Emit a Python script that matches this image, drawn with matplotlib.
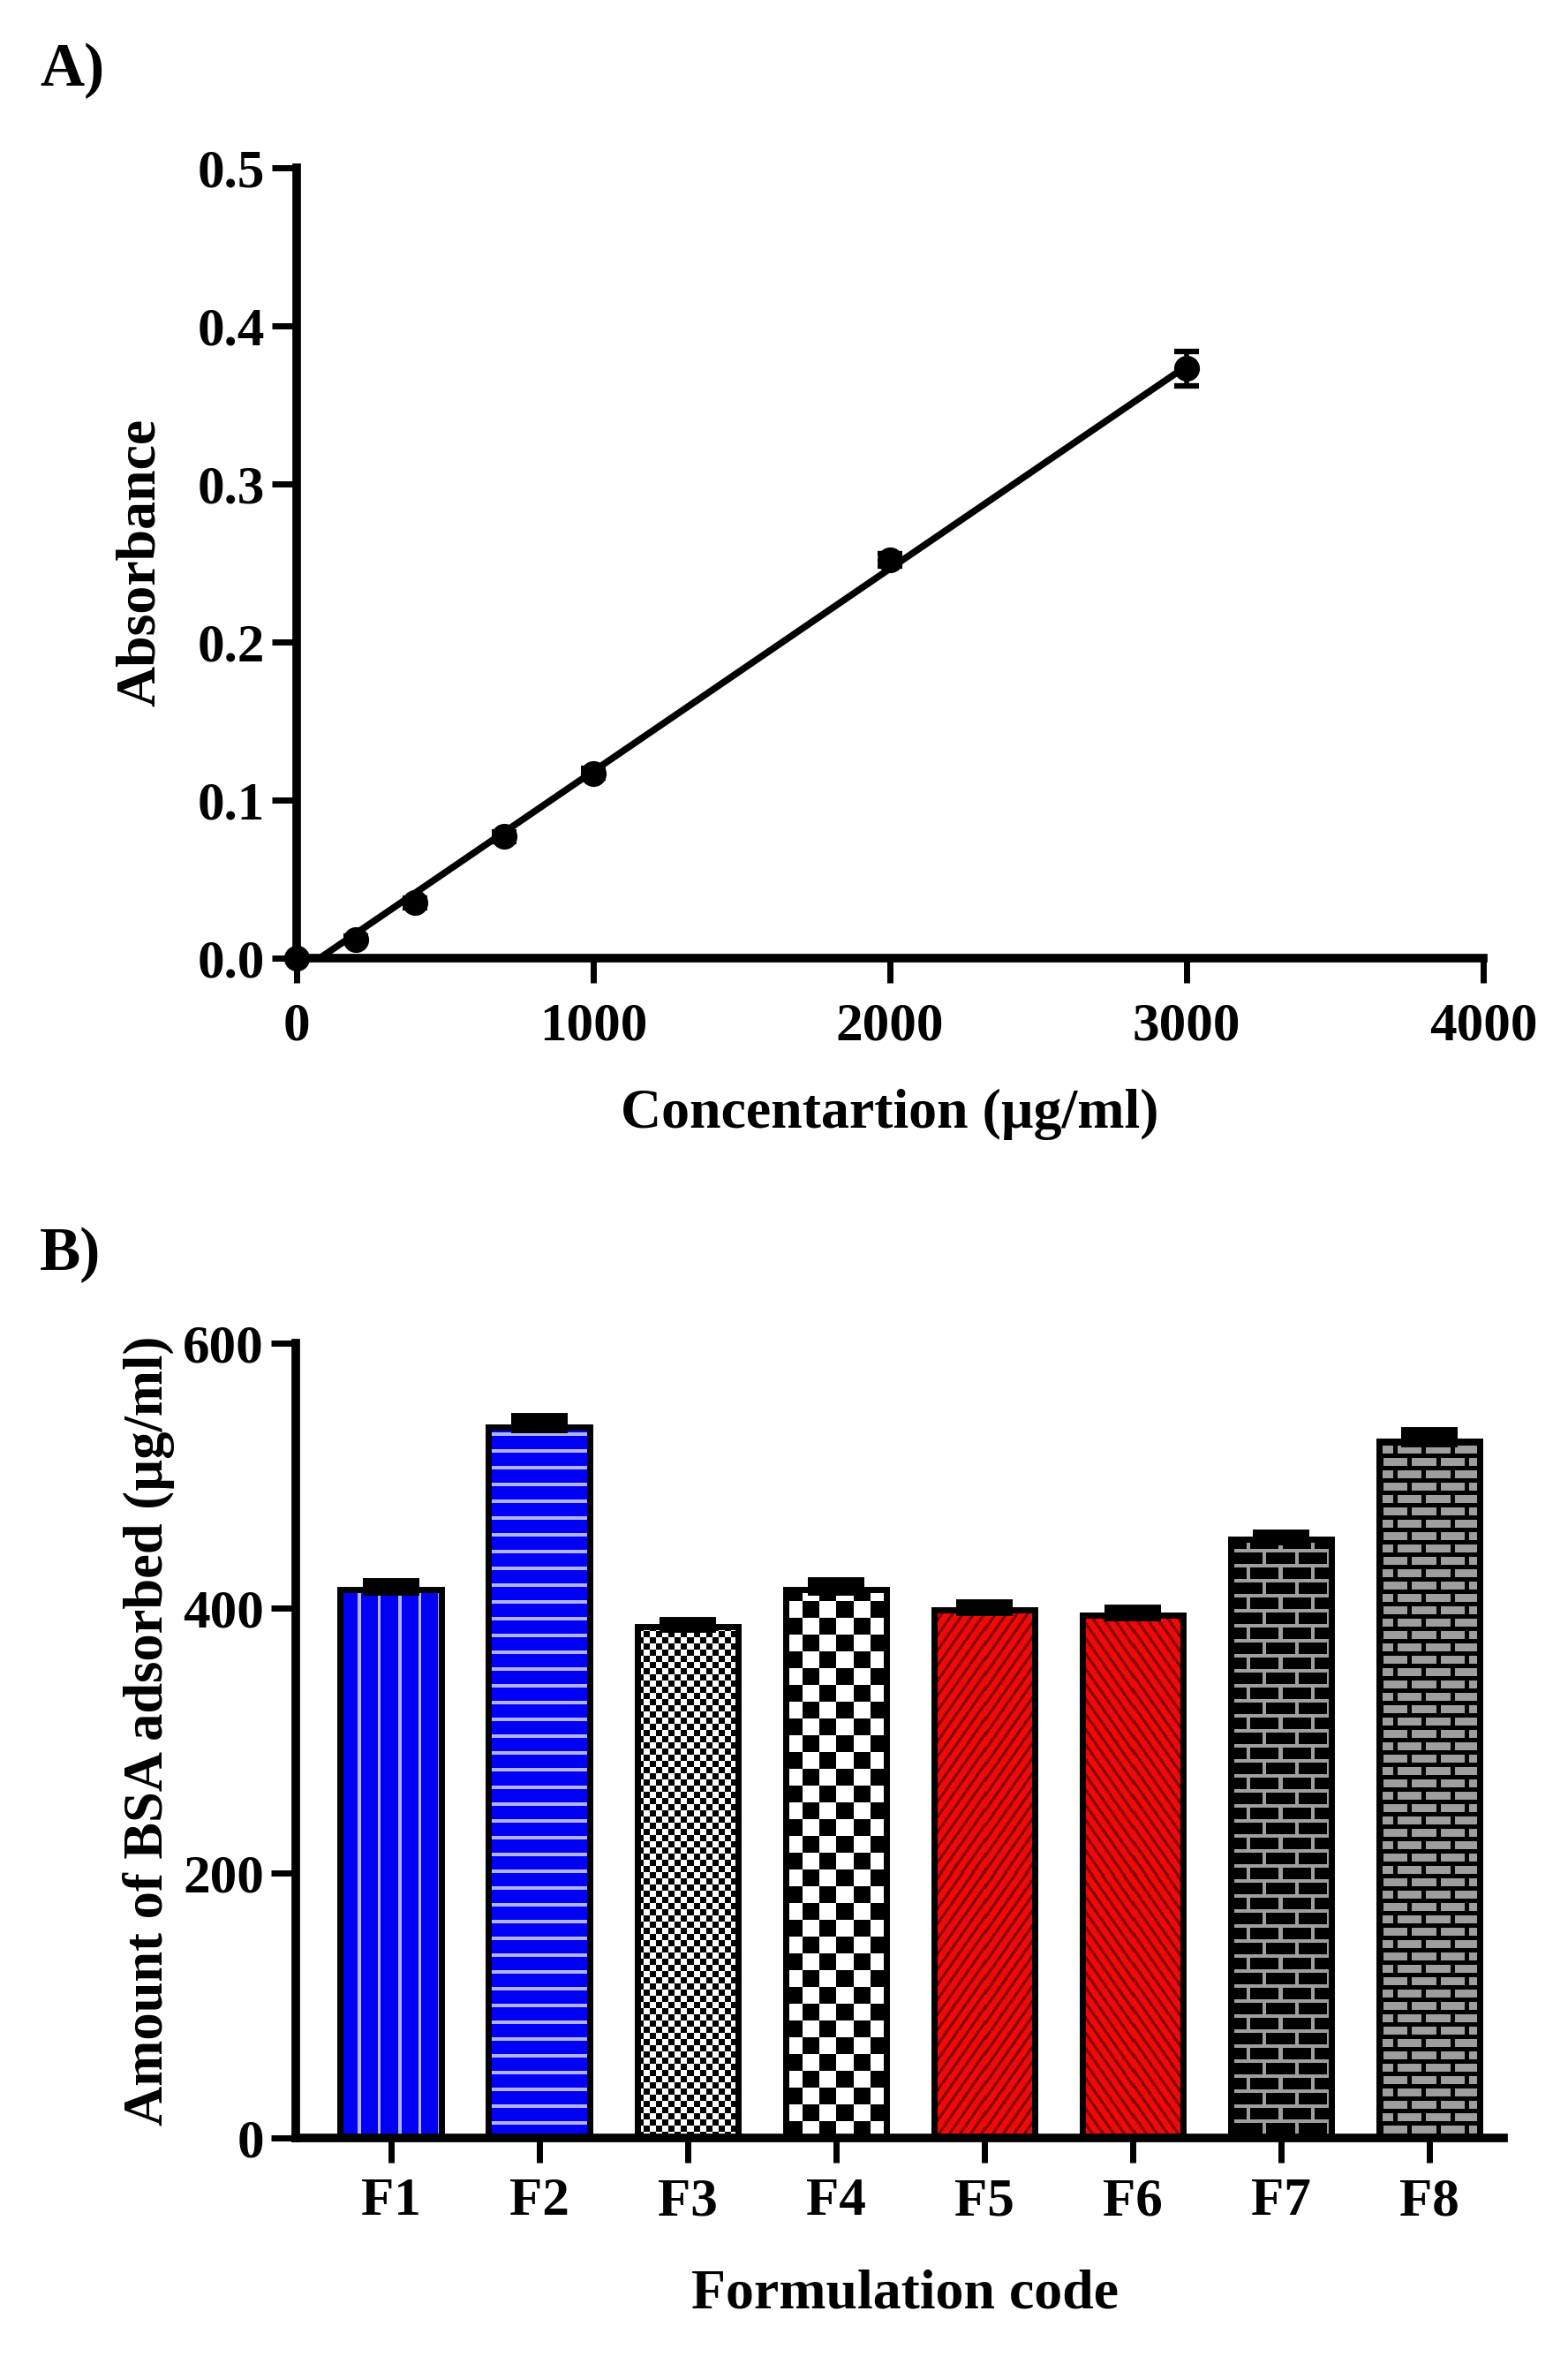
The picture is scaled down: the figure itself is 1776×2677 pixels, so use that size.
import numpy as np
import matplotlib
matplotlib.use('Agg')
import matplotlib.pyplot as plt

W, H = 1776, 2677
DPI = 100

plt.rcParams['font.family'] = ['Liberation Serif', 'DejaVu Serif']
plt.rcParams['font.weight'] = 'bold'

# panel A: calibration curve
conc = np.array([0, 200, 400, 700, 1000, 2000, 3000])
absorb = np.array([0.0, 0.012, 0.035, 0.077, 0.117, 0.252, 0.373])
absorb_err = np.array([0.0, 0.002, 0.003, 0.003, 0.003, 0.004, 0.011])

# panel B: BSA adsorbed per formulation
codes = ['F1', 'F2', 'F3', 'F4', 'F5', 'F6', 'F7', 'F8']
bsa = np.array([414, 537, 386, 414, 399, 395, 452, 526])
bsa_err = np.array([4, 6, 3, 5, 3, 3, 3, 6])

BLUE = (0.0, 0.0, 0.96)
LIGHT = (0.70, 0.70, 1.0)
RED = (0.93, 0.04, 0.04)
DARKRED = (0.55, 0.0, 0.0)
GRAY = (0.62, 0.62, 0.62)


def frac(x, y):
    return x / W, 1 - y / H


def grid(w, h):
    return np.mgrid[0:h, 0:w]


def pat_vlines(w, h):
    img = np.empty((h, w, 3))
    img[:] = BLUE
    x = np.arange(w)
    img[:, ((x - 20) % 22.5) < 3.5] = LIGHT
    return img


def pat_hlines(w, h):
    img = np.empty((h, w, 3))
    img[:] = BLUE
    y = np.arange(h)
    img[((y - 15) % 19) < 4, :] = LIGHT
    return img


def pat_checker(c):
    def f(w, h):
        yy, xx = grid(w, h)
        img = np.ones((h, w, 3))
        img[((xx // c + yy // c) % 2) == 0] = 0
        return img
    return f


def pat_diag(sign):
    def f(w, h):
        yy, xx = grid(w, h)
        img = np.empty((h, w, 3))
        img[:] = RED
        u = xx - sign * yy * 0.7
        img[(u % 12) < 4] = DARKRED
        return img
    return f


def pat_bricks_big(w, h):
    yy, xx = grid(w, h)
    row = yy // 17
    mortar = ((yy % 17) < 4) | (((xx + (row % 2) * 18) % 36) < 4)
    img = np.zeros((h, w, 3))
    img[mortar] = GRAY
    return img


def pat_bricks_small(w, h):
    yy, xx = grid(w, h)
    row = yy // 14
    mortar = ((yy % 14) < 5) | (((xx + (row % 2) * 16) % 32) < 5)
    img = np.empty((h, w, 3))
    img[:] = GRAY
    img[mortar] = 0
    return img


patterns = [pat_vlines, pat_hlines, pat_checker(7), pat_checker(19),
            pat_diag(1), pat_diag(-1), pat_bricks_big, pat_bricks_small]


def style_axes(ax):
    for s in ['top', 'right']:
        ax.spines[s].set_visible(False)
    for s in ['left', 'bottom']:
        ax.spines[s].set_linewidth(7)
        ax.spines[s].set_capstyle('projecting')
    ax.tick_params(width=5, length=20, labelsize=44, direction='out')


fig = plt.figure(figsize=(W / DPI, H / DPI), dpi=DPI)

# ---------- A ----------
l, b = frac(336, 1085)
r, t = frac(1680, 190)
axA = fig.add_axes([l, b, r - l, t - b])
style_axes(axA)
axA.tick_params(axis='y', pad=6)
axA.tick_params(axis='x', pad=16)

slope, icpt = np.polyfit(conc, absorb, 1)
xfit = np.array([conc.min(), conc.max()])
axA.plot(xfit, slope * xfit + icpt, color='k', lw=5.5, solid_capstyle='butt', zorder=3)
axA.errorbar(conc, absorb, yerr=absorb_err, fmt='o', color='k', ms=20,
             elinewidth=4, capsize=10, capthick=4.5, clip_on=False, zorder=4)

axA.set_xlim(0, 4000)
axA.set_ylim(0, 0.5)
axA.set_xticks([0, 1000, 2000, 3000, 4000])
axA.set_yticks(np.arange(0, 0.51, 0.1))
axA.set_yticklabels([f'{v:.1f}' for v in np.arange(0, 0.51, 0.1)])

fig.text(*frac(1008, 1262), 'Concentartion (\u00b5g/ml)', ha='center', va='center', fontsize=46)
fig.text(*frac(160, 637), 'Absorbance', ha='center', va='center', rotation=90, fontsize=46)
fig.text(*frac(45, 48), 'A)', ha='left', va='top', fontsize=50)

# ---------- B ----------
XLO, XHI = -0.64, 7.5
l, b = frac(335, 2421)
r, t = frac(1703, 1521)
axB = fig.add_axes([l, b, r - l, t - b])
style_axes(axB)
axB.tick_params(axis='y', pad=6)
axB.tick_params(axis='x', pad=12)
axB.set_xlim(XLO, XHI)
axB.set_ylim(0, 600)
axB.set_yticks([0, 200, 400, 600])

xpos = np.arange(len(codes))
bw = 0.68
bars = axB.bar(xpos, bsa, width=bw, color='none', edgecolor='k', linewidth=5, zorder=3)

for rect, pat in zip(bars, patterns):
    x0, x1 = rect.get_x(), rect.get_x() + rect.get_width()
    h = rect.get_height()
    p = axB.transData.transform([[x0, 0], [x1, h]])
    wpx = int(round(p[1, 0] - p[0, 0]))
    hpx = int(round(p[1, 1] - p[0, 1]))
    im = axB.imshow(pat(wpx, hpx), extent=(x0, x1, 0, h), origin='lower',
                    interpolation='nearest', aspect='auto', zorder=2)
    im.set_clip_path(rect)

axB.errorbar(xpos, bsa, yerr=[np.zeros_like(bsa_err), bsa_err], fmt='none', ecolor='k',
             elinewidth=6, capsize=23, capthick=10, zorder=4)

axB.set_xlim(XLO, XHI)
axB.set_ylim(0, 600)
axB.set_xticks(xpos)
axB.set_xticklabels(codes)

fig.text(*frac(1025, 2599), 'Formulation code', ha='center', va='center', fontsize=46)
fig.text(*frac(168, 1960), 'Amount of BSA adsorbed (\u00b5g/ml)', ha='center', va='center',
         rotation=90, fontsize=45)
fig.text(*frac(45, 1389), 'B)', ha='left', va='top', fontsize=50)

fig.savefig('out.png', dpi=DPI, facecolor='white')
